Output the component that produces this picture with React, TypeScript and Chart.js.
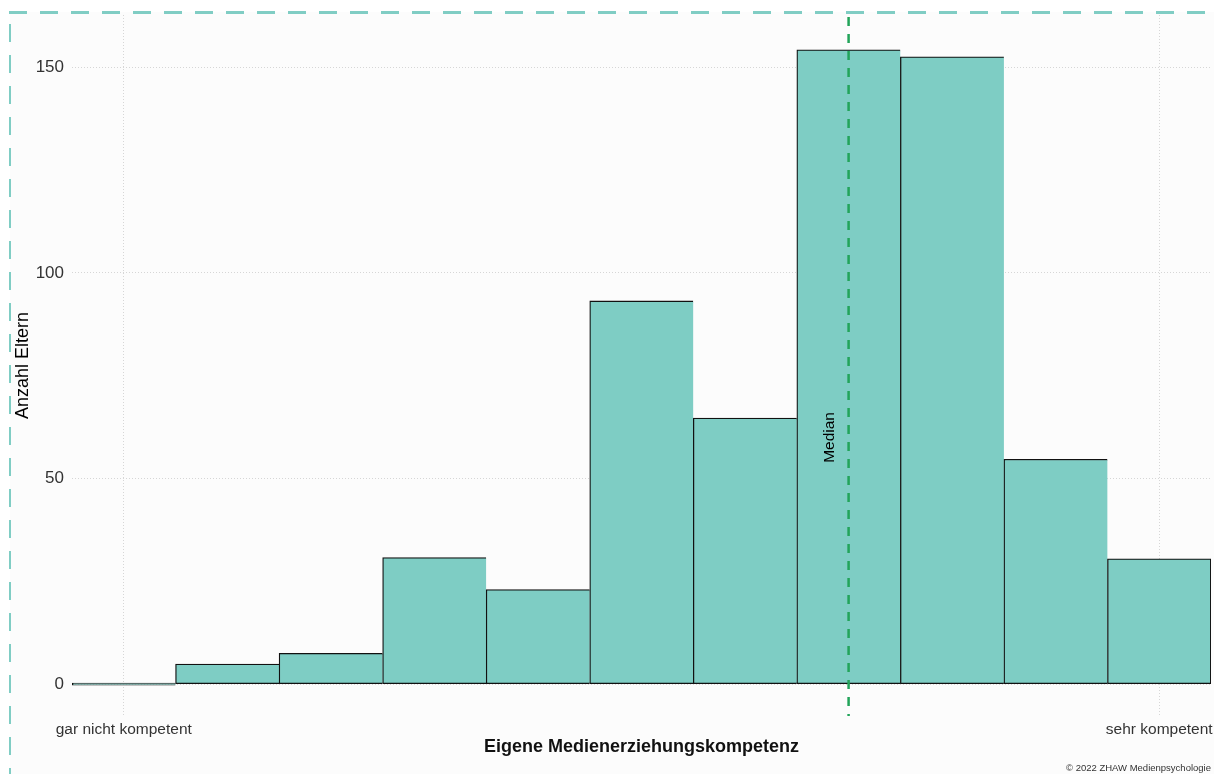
import React, { useEffect, useRef } from "react";
import { Chart, registerables } from "chart.js";

Chart.register(...registerables);

// ---- data ----
const categories = ["1", "2", "3", "4", "5", "6", "7", "8", "9", "10", "11"];
const counts = [0, 4.9, 7.5, 30.8, 23, 93.2, 64.7, 154.3, 152.6, 54.7, 30.5];
const xTickLabels: Record<string, string> = {
  "1": "gar nicht kompetent",
  "11": "sehr kompetent",
};
const yTicks = [0, 50, 100, 150];
const medianCategory = "8";
const medianLabel = "Median";
const medianLabelY = 60;
const xTitle = "Eigene Medienerziehungskompetenz";
const yTitle = "Anzahl Eltern";
const caption = "© 2022 ZHAW Medienpsychologie";

const FONT = "'Liberation Sans', Arial, sans-serif";
const TEAL = "#7ecdc4";

const backgroundPlugin = {
  id: "bgFrame",
  beforeDraw(chart: any) {
    const { ctx, width, height } = chart;
    ctx.save();
    ctx.fillStyle = "#ffffff";
    ctx.fillRect(0, 0, width, height);
    ctx.fillStyle = "#fcfcfc";
    ctx.fillRect(10, 12, width - 10, height - 12);
    ctx.strokeStyle = "#80cdc4";
    ctx.setLineDash([18, 13]);
    ctx.lineWidth = 3;
    ctx.beginPath();
    ctx.moveTo(9, 12.5);
    ctx.lineTo(width, 12.5);
    ctx.stroke();
    ctx.lineWidth = 2;
    ctx.lineDashOffset = 19;
    ctx.beginPath();
    ctx.moveTo(10, 12);
    ctx.lineTo(10, height);
    ctx.stroke();
    ctx.restore();
  },
};

const medianPlugin = {
  id: "median",
  afterDatasetsDraw(chart: any) {
    const { ctx, chartArea, scales } = chart;
    const x = scales.x.getPixelForValue(categories.indexOf(medianCategory));
    ctx.save();
    ctx.strokeStyle = "#22a45a";
    ctx.lineWidth = 2.5;
    ctx.setLineDash([9, 8]);
    ctx.beginPath();
    ctx.moveTo(x, chartArea.top + 2);
    ctx.lineTo(x, chartArea.bottom);
    ctx.stroke();
    ctx.setLineDash([]);
    const y = scales.y.getPixelForValue(medianLabelY);
    ctx.translate(x - 19, y);
    ctx.rotate(-Math.PI / 2);
    ctx.fillStyle = "#000";
    ctx.font = `15.5px ${FONT}`;
    ctx.textAlign = "center";
    ctx.textBaseline = "middle";
    ctx.fillText(medianLabel, 0, 0);
    ctx.restore();
  },
  afterDraw(chart: any) {
    const { ctx, width, height } = chart;
    ctx.save();
    ctx.fillStyle = "#333";
    ctx.font = `9.5px ${FONT}`;
    ctx.textAlign = "right";
    ctx.textBaseline = "middle";
    ctx.fillText(caption, width - 3, height - 6);
    ctx.restore();
  },
};

export default function App() {
  const ref = useRef<HTMLCanvasElement>(null);
  useEffect(() => {
    if (!ref.current) return;
    const chart = new Chart(ref.current, {
      type: "bar",
      data: {
        labels: categories,
        datasets: [
          {
            data: counts,
            backgroundColor: TEAL,
            borderColor: "#111",
            borderWidth: (c: any) => ({
              top: 1.3,
              left: 1.3,
              bottom: 1.3,
              right: c.dataIndex === counts.length - 1 ? 1.3 : 0,
            }),
            borderSkipped: false,
            minBarLength: 2,
            barPercentage: 1,
            categoryPercentage: 1,
          } as any,
        ],
      },
      plugins: [backgroundPlugin, medianPlugin],
      options: {
        animation: false,
        responsive: false,
        devicePixelRatio: 1,
        layout: { padding: { top: 15, left: 0, right: 3, bottom: 0 } },
        plugins: { legend: { display: false }, tooltip: { enabled: false } },
        font: { family: FONT },
        scales: {
          x: {
            type: "category",
            offset: true,
            afterFit: (s: any) => {
              s.height = 58;
              s.paddingLeft = 0;
              s.paddingRight = 0;
            },
            grid: {
              offset: false,
              drawTicks: false,
              color: (c: any) =>
                xTickLabels[categories[c.index]] ? "#d6d6d6" : "rgba(0,0,0,0)",
              lineWidth: 1,
            },
            border: { display: false, dash: [1, 2] },
            ticks: {
              autoSkip: false,
              maxRotation: 0,
              padding: 4,
              color: "#333",
              font: { family: FONT, size: 15.5 },
              callback: (_v: any, i: number) => xTickLabels[categories[i]] || "",
            },
            title: {
              display: true,
              text: xTitle,
              color: "#111",
              font: { family: FONT, size: 18, weight: "bold" },
              padding: { top: 0, bottom: 16 },
            },
          },
          y: {
            type: "linear",
            min: -7.75,
            max: 162.75,
            afterFit: (s: any) => {
              s.width = 72;
              s.paddingTop = 0;
              s.paddingBottom = 0;
            },
            afterBuildTicks: (s: any) => {
              s.ticks = yTicks.map((v) => ({ value: v }));
            },
            grid: { drawTicks: false, color: "#d6d6d6", lineWidth: 1 },
            border: { display: false, dash: [1, 2] },
            ticks: {
              padding: 8,
              color: "#333",
              font: { family: FONT, size: 17 },
            },
            title: {
              display: true,
              text: yTitle,
              color: "#000",
              font: { family: FONT, size: 18 },
              padding: { top: 12, bottom: 0 },
            },
          },
        },
      } as any,
    });
    return () => chart.destroy();
  }, []);
  return (
    <canvas
      ref={ref}
      width={1214}
      height={774}
      style={{ position: "fixed", left: 0, top: 0, width: 1214, height: 774 }}
    />
  );
}
